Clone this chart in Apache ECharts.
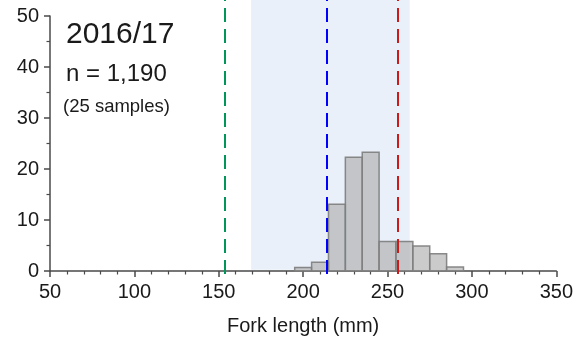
<!DOCTYPE html>
<html>
<head>
<meta charset="utf-8">
<script src="https://cdn.jsdelivr.net/npm/echarts@6/dist/echarts.min.js"></script>
<style>html,body{margin:0;padding:0;background:#fff;}#c{width:576px;height:341px;}</style>
</head>
<body>
<div id="c"></div>
<script>
// Data
var binCenters = [200, 210, 220, 230, 240, 250, 260, 270, 280, 290];
var counts = [0.7, 1.7, 13.1, 22.3, 23.3, 5.8, 5.8, 4.9, 3.4, 0.8];
var binWidth = 10;
var xTicks = [50, 100, 150, 200, 250, 300, 350];
var yTicks = [0, 10, 20, 30, 40, 50];
var shadeRange = [168.5, 262];
var shadeBottom = 0.8;
var greenLine = 153;
var blueLine = 213;
var redLine = 255;
var titleText = '2016/17';
var nText = 'n = 1,190';
var sampleText = '(25 samples)';
var xTitle = 'Fork length (mm)';

var FONT = 'Liberation Sans, Arial, sans-serif';
var axisColor = '#4a4a4a';
var L = 50, R = 17, B = 67;

var chart = echarts.init(document.getElementById('c'), null, {renderer: 'canvas'});
var option = {
  animation: false,
  backgroundColor: '#fff',
  grid: [
    {left: L, right: R, top: 16, bottom: B},
    {left: L, right: R, top: 0, bottom: B}
  ],
  xAxis: [
    {
      type: 'value', gridIndex: 0, min: xTicks[0], max: xTicks[xTicks.length - 1], interval: 50,
      axisLine: {lineStyle: {color: axisColor, width: 1.5}},
      axisTick: {show: true, inside: false, length: 6, lineStyle: {color: axisColor, width: 1.5}},
      minorTick: {show: true, splitNumber: 5, length: 3.5, lineStyle: {color: axisColor, width: 1.2}},
      splitLine: {show: false},
      axisLabel: {color: '#1a1a1a', fontSize: 20, fontFamily: FONT, margin: 11},
      name: xTitle, nameLocation: 'middle', nameGap: 45,
      nameTextStyle: {color: '#1a1a1a', fontSize: 20, fontFamily: FONT}
    },
    {
      type: 'value', gridIndex: 1, min: xTicks[0], max: xTicks[xTicks.length - 1], show: false
    }
  ],
  yAxis: [
    {
      type: 'value', gridIndex: 0, min: yTicks[0], max: yTicks[yTicks.length - 1], interval: 10,
      axisLine: {show: true, lineStyle: {color: axisColor, width: 1.5}},
      axisTick: {show: true, inside: false, length: 6, lineStyle: {color: axisColor, width: 1.5}},
      minorTick: {show: true, splitNumber: 2, length: 3.5, lineStyle: {color: axisColor, width: 1.2}},
      splitLine: {show: false},
      axisLabel: {color: '#1a1a1a', fontSize: 20, fontFamily: FONT, margin: 11}
    },
    {
      type: 'value', gridIndex: 1, min: 0, max: 50 * 274 / 258, show: false
    }
  ],
  series: [
    {
      type: 'custom', xAxisIndex: 1, yAxisIndex: 1, z: 1,
      data: [],
      renderItem: function () { return null; },
      markArea: {
        silent: true,
        itemStyle: {color: '#eaf0fa'},
        data: [[{xAxis: shadeRange[0], yAxis: shadeBottom}, {xAxis: shadeRange[1], yAxis: 'max'}]]
      }
    },
    {
      type: 'custom', xAxisIndex: 0, yAxisIndex: 0, z: 3,
      data: binCenters.map(function (c, i) { return [c, counts[i]]; }),
      renderItem: function (params, api) {
        var c = api.value(0), v = api.value(1);
        var p1 = api.coord([c - binWidth / 2, v]);
        var p2 = api.coord([c + binWidth / 2, 0]);
        return {
          type: 'rect',
          shape: {x: p1[0], y: p1[1], width: p2[0] - p1[0], height: p2[1] - p1[1]},
          style: {fill: 'rgba(168,168,168,0.6)', stroke: 'rgba(125,125,125,0.9)', lineWidth: 1.5}
        };
      }
    },
    {
      type: 'custom', xAxisIndex: 1, yAxisIndex: 1, z: 5,
      data: [],
      renderItem: function () { return null; },
      markLine: {
        silent: true, symbol: 'none', label: {show: false},
        data: [
          {xAxis: greenLine, lineStyle: {color: '#00965a', type: [14, 7], width: 2}},
          {xAxis: blueLine, lineStyle: {color: '#0000ff', type: [14, 7], width: 2}},
          {xAxis: redLine, lineStyle: {color: '#cc1a1a', type: [14, 7], width: 2}}
        ]
      }
    }
  ],
  graphic: [
    {type: 'text', left: 66, top: 20, style: {text: titleText, font: '30px ' + FONT, fill: '#1a1a1a'}},
    {type: 'text', left: 66, top: 62, style: {text: nText, font: '24px ' + FONT, fill: '#1a1a1a'}},
    {type: 'text', left: 63, top: 97, style: {text: sampleText, font: '18.5px ' + FONT, fill: '#1a1a1a'}}
  ]
};
chart.setOption(option);
</script>
</body>
</html>
